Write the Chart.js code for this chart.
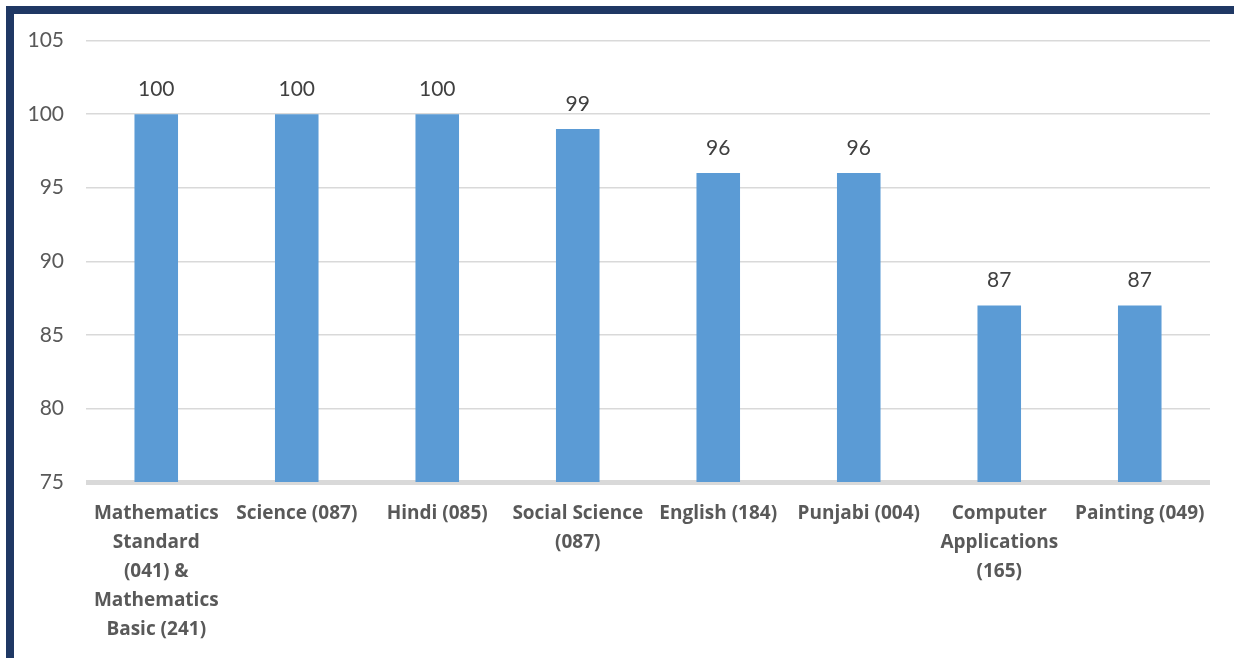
<!DOCTYPE html>
<html>
<head>
<meta charset="utf-8">
<script src="https://cdn.jsdelivr.net/npm/chart.js@4/dist/chart.umd.min.js"></script>
<style>
  html, body { margin: 0; padding: 0; background: #fff; }
  body { width: 1234px; height: 658px; position: relative; overflow: hidden; }
  #frame {
    position: absolute; left: 6px; top: 6px; width: 1240px; height: 648px;
    border-left: 8px solid #1f3864; border-top: 8px solid #1f3864;
    border-bottom: 2px solid #8a919c;
  }
  #wrap { position: absolute; left: 14px; top: 6px; width: 1220px; height: 650px; }
</style>
</head>
<body>
<div id="frame"></div>
<div id="wrap"><canvas id="chart"></canvas></div>
<script>
// Subjects and scores
const subjects = [
    ["Mathematics", "Standard", "(041) &", "Mathematics", "Basic (241)"],
    "Science (087)",
    "Hindi (085)",
    ["Social Science", "(087)"],
    "English (184)",
    "Punjabi (004)",
    ["Computer", "Applications", "(165)"],
    "Painting (049)"
];
const scores = [100, 100, 100, 99, 96, 96, 87, 87];
const yTicks = [75, 80, 85, 90, 95, 100, 105];

const fontFamily = "Lato, 'Open Sans', sans-serif";

// draw value labels above bars
const valueLabels = {
    id: "valueLabels",
    afterDatasetsDraw(chart) {
        const ctx = chart.ctx;
        const meta = chart.getDatasetMeta(0);
        ctx.save();
        ctx.font = "21px " + fontFamily;
        ctx.fillStyle = "#404040";
        ctx.textAlign = "center";
        ctx.textBaseline = "middle";
        meta.data.forEach((bar, i) => {
            ctx.fillText(String(scores[i]), bar.x, bar.y - 25);
        });
        ctx.restore();
    }
};

new Chart(document.getElementById("chart"), {
    type: "bar",
    data: {
        labels: subjects,
        datasets: [{
            data: scores,
            backgroundColor: "#5b9bd5",
            categoryPercentage: 1,
            barPercentage: 0.31
        }]
    },
    options: {
        responsive: true,
        maintainAspectRatio: false,
        animation: false,
        layout: { padding: { top: 19, right: 24, left: 0, bottom: 0 } },
        plugins: {
            legend: { display: false },
            tooltip: { enabled: false }
        },
        scales: {
            y: {
                min: 75,
                max: 105,
                afterBuildTicks: s => { s.ticks = yTicks.map(v => ({ value: v })); },
                afterFit: s => { s.width = 72; },
                border: { display: false },
                grid: {
                    color: "#d9d9d9",
                    lineWidth: c => c.tick && c.tick.value === 75 ? 5 : 1.5,
                    drawTicks: false
                },
                ticks: {
                    padding: 22,
                    color: "#595959",
                    font: { family: fontFamily, size: 21 }
                }
            },
            x: {
                afterFit: s => { s.height = 174; },
                border: { display: false },
                grid: { display: false },
                ticks: {
                    maxRotation: 0,
                    autoSkip: false,
                    padding: 9,
                    color: "#595959",
                    font: { family: "'Open Sans', sans-serif", size: 19, weight: "bold", lineHeight: 1.53 }
                }
            }
        }
    },
    plugins: [valueLabels]
});
</script>
</body>
</html>
